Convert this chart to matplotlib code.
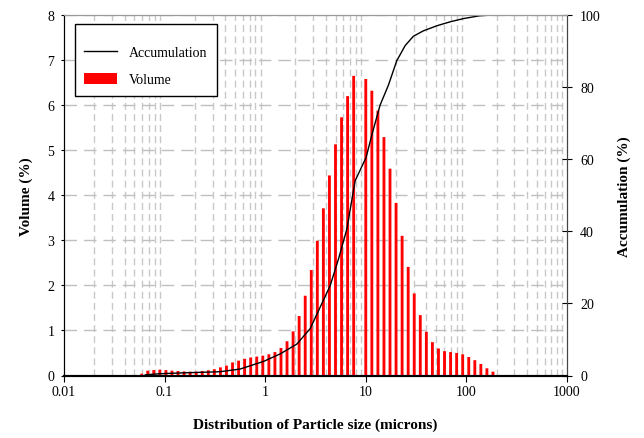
import matplotlib
matplotlib.use("Agg")
import matplotlib.pyplot as plt
from matplotlib.ticker import LogLocator, NullFormatter, FixedLocator
from matplotlib.patches import Rectangle

plt.rcParams['font.family'] = ['Liberation Serif', 'DejaVu Serif']

# particle size bins (microns) and volume (%)
sizes = [0.0592, 0.0680, 0.0781, 0.0897, 0.1031, 0.1184, 0.1360, 0.1563, 0.1795, 0.2062,
         0.2368, 0.2720, 0.3125, 0.3590, 0.4123, 0.4737, 0.5441, 0.6250, 0.7180, 0.8247,
         0.9473, 1.088, 1.250, 1.436, 1.649, 1.895, 2.176, 2.500, 2.872, 3.299,
         3.789, 4.353, 5.000, 5.743, 6.598, 7.579, 10.00, 11.49, 13.20, 15.16,
         17.41, 20.00, 22.97, 26.39, 30.31, 34.82, 40.00, 45.95, 52.78, 60.63,
         69.64, 80.00, 91.90, 105.6, 121.3, 139.3, 160.0, 183.8]
volume = [0.04, 0.107, 0.12, 0.13, 0.12, 0.107, 0.10, 0.09, 0.085, 0.085,
          0.10, 0.115, 0.14, 0.18, 0.22, 0.29, 0.33, 0.37, 0.40, 0.42,
          0.44, 0.47, 0.52, 0.61, 0.76, 0.98, 1.32, 1.77, 2.34, 2.99,
          3.71, 4.44, 5.13, 5.73, 6.20, 6.65, 6.58, 6.32, 5.88, 5.29,
          4.59, 3.83, 3.10, 2.41, 1.82, 1.34, 0.97, 0.74, 0.60, 0.54,
          0.52, 0.50, 0.47, 0.41, 0.34, 0.255, 0.16, 0.085]

# accumulation curve (%)
acc_size = [0.0643, 0.0907, 0.143, 0.357, 0.564, 0.962, 1.41, 2.06, 2.80, 4.42,
            5.35, 6.48, 7.83, 10.07, 11.55, 13.87, 16.76, 20.3, 24.6, 29.7,
            37.3, 50.7, 68.7, 93.2, 136, 185, 242]
acc_pct = [0.2, 0.5, 0.7, 1.05, 1.8, 3.9, 6.0, 8.7, 13.0, 24.9,
           32.3, 40.6, 54.0, 60.5, 67.0, 75.0, 80.5, 87.3, 91.5, 94.1,
           95.6, 97.0, 98.1, 99.0, 99.8, 100, 100]

x_ticks = [0.01, 0.1, 1, 10, 100, 1000]
x_tick_labels = ['0.01', '0.1', '1', '10', '100', '1000']

fig = plt.figure(figsize=(6.44, 4.39), dpi=100)
ax = fig.add_axes([64/644, 62.5/439, 503/644, 360.5/439])
ax.set_xscale('log')
ax.set_xlim(0.01, 1000)
ax.set_ylim(0, 8)

# grid
ax.xaxis.set_minor_locator(LogLocator(base=10, subs=[2, 3, 4, 5, 6, 7, 8, 9]))
ax.xaxis.set_minor_formatter(NullFormatter())
ax.grid(which='minor', axis='x', color='#c8c8c8', linestyle=(0, (5, 3)), linewidth=1)
ax.yaxis.set_major_locator(FixedLocator(range(0, 9)))
ax.grid(which='major', axis='y', color='#c0c0c0', linestyle=(0, (9, 5)), linewidth=1)
ax.set_axisbelow(True)

bar_w = [s * 0.065 for s in sizes]
bars = ax.bar(sizes, volume, width=bar_w, color='#ff0000', label='Volume',
              zorder=3, snap=False, linewidth=0)

ax.set_xticks(x_ticks)
ax.set_xticklabels(x_tick_labels)
ax.tick_params(axis='x', which='major', direction='out', length=4, labelsize=10, pad=3)
ax.tick_params(axis='x', which='minor', length=0)
ax.tick_params(axis='y', direction='out', length=2, labelsize=10, pad=5)

ax.set_xlabel('Distribution of Particle size (microns)', fontsize=11, fontweight='bold', labelpad=14)
ax.set_ylabel('Volume (%)', fontsize=11, fontweight='bold', labelpad=10)

ax2 = ax.twinx()
ax2.set_ylim(0, 100)
ax2.set_yticks([0, 20, 40, 60, 80, 100])
ax2.tick_params(axis='y', direction='inout', length=7, labelsize=10, pad=6)
line, = ax2.plot(acc_size, acc_pct, color='black', linewidth=1, label='Accumulation')
ax2.set_ylabel('Accumulation (%)', fontsize=11, fontweight='bold', labelpad=12)

for a in (ax, ax2):
    a.spines['top'].set_color('#999999')
    a.spines['left'].set_color('black')
    a.spines['right'].set_color('#444444')
    a.spines['bottom'].set_color('black')
    a.spines['bottom'].set_linewidth(1.5)

# legend frame drawn as a box
ax2.add_patch(Rectangle((0.022, 0.7745), 0.2817, 0.2005, transform=ax2.transAxes,
                        facecolor='white', edgecolor='black', linewidth=1, zorder=5))
leg = ax2.legend([line, bars.patches[0]], ['Accumulation', 'Volume'], loc='upper left',
                 bbox_to_anchor=(0.04, 0.914), frameon=False, fontsize=10,
                 handlelength=2.4, handleheight=0.8, labelspacing=1.02, handletextpad=0.85,
                 borderaxespad=0, borderpad=0)
leg.set_zorder(6)

fig.savefig('out.png', dpi=100)
